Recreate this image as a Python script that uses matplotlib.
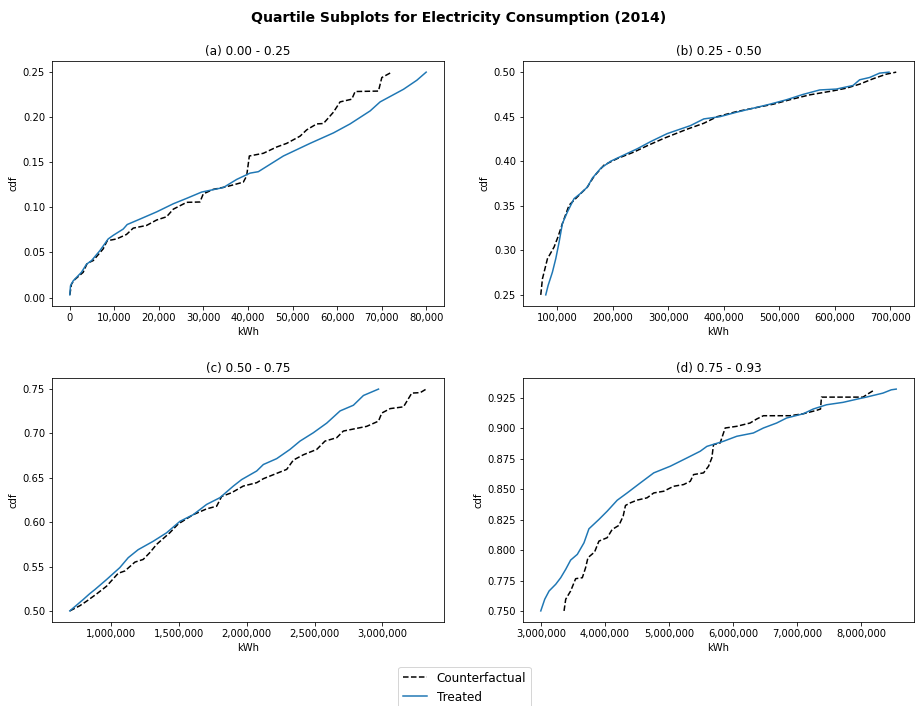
import matplotlib
matplotlib.use("Agg")
import matplotlib.pyplot as plt
from matplotlib.ticker import FuncFormatter

# ---- data: (a) 0.00 - 0.25 ----
a_treat_x = [0, 150, 750, 2600, 3750, 4870, 6740, 8610, 9740, 11990, 12880, 15730, 19480, 23220,
             26220, 29590, 34460, 37450, 40450, 42320, 47940, 53930, 59180, 62920, 67420, 69660,
             74910, 77900, 80000]
a_treat_y = [0.003, 0.013, 0.0185, 0.028, 0.037, 0.041, 0.052, 0.065, 0.069, 0.076, 0.081, 0.087,
             0.095, 0.104, 0.110, 0.117, 0.122, 0.131, 0.138, 0.1396, 0.157, 0.171, 0.1826, 0.1926,
             0.207, 0.217, 0.231, 0.241, 0.25]
a_cf_x = [0, 375, 1120, 3000, 3900, 5240, 7490, 8390, 10490, 12730, 14230, 17230, 19480, 21720,
          23220, 26220, 29210, 29960, 32210, 35210, 38950, 39700, 40300, 43450, 46450, 48690,
          51690, 53180, 55430, 56930, 59180, 60670, 63300, 64050, 69290, 70040, 71910]
a_cf_y = [0.003, 0.015, 0.020, 0.028, 0.038, 0.041, 0.054, 0.063, 0.065, 0.070, 0.077, 0.080,
          0.086, 0.0896, 0.098, 0.1056, 0.106, 0.115, 0.120, 0.123, 0.128, 0.135, 0.157, 0.160,
          0.167, 0.171, 0.179, 0.186, 0.1926, 0.193, 0.2056, 0.217, 0.220, 0.2285, 0.229, 0.244,
          0.249]

# ---- data: (b) 0.25 - 0.50 ----
b_treat_x = [79000, 83200, 91000, 97000, 103000, 109000, 118000, 130000, 142000, 154000, 163000,
             178000, 196000, 220000, 244000, 268000, 298000, 340000, 364000, 393000, 423000,
             453000, 483000, 513000, 543000, 573000, 603000, 633000, 645000, 663000, 681000, 698000]
b_treat_y = [0.25, 0.2605, 0.2755, 0.2905, 0.309, 0.33, 0.343, 0.358, 0.364, 0.371, 0.381, 0.392,
             0.400, 0.407, 0.414, 0.422, 0.431, 0.440, 0.4475, 0.450, 0.455, 0.4595, 0.464, 0.469,
             0.475, 0.480, 0.481, 0.485, 0.4914, 0.494, 0.4989, 0.500]
b_cf_x = [70000, 73000, 82000, 94000, 101000, 109000, 121000, 136000, 154000, 166000, 184000,
          208000, 238000, 262000, 292000, 334000, 364000, 388000, 423000, 453000, 489000, 519000,
          555000, 597000, 621000, 645000, 669000, 693000, 711000]
b_cf_y = [0.25, 0.268, 0.2905, 0.3037, 0.315, 0.33, 0.3506, 0.360, 0.371, 0.383, 0.3956, 0.403,
          0.4103, 0.4174, 0.4257, 0.436, 0.4426, 0.450, 0.4557, 0.4595, 0.464, 0.469, 0.4745,
          0.479, 0.482, 0.4865, 0.4925, 0.4977, 0.500]

# ---- data: (c) 0.50 - 0.75 ----
c_treat_x = [697800, 796000, 845000, 882000, 968000, 1066000, 1128000, 1201000, 1312000, 1410000,
             1509000, 1607000, 1705000, 1803000, 1902000, 1963000, 2074000, 2123000, 2221000,
             2319000, 2393000, 2491000, 2590000, 2688000, 2786000, 2860000, 2971000]
c_treat_y = [0.50, 0.5128, 0.5195, 0.524, 0.5353, 0.5488, 0.560, 0.569, 0.5785, 0.588, 0.601,
             0.6085, 0.620, 0.6276, 0.6407, 0.648, 0.6577, 0.665, 0.6716, 0.682, 0.6914, 0.7008,
             0.7117, 0.7254, 0.7318, 0.7428, 0.750]
c_cf_x = [697800, 771000, 821000, 894000, 968000, 1054000, 1103000, 1177000, 1238000, 1287000,
          1337000, 1435000, 1496000, 1607000, 1705000, 1779000, 1816000, 1889000, 1975000,
          2074000, 2123000, 2221000, 2295000, 2344000, 2418000, 2516000, 2577000, 2663000,
          2712000, 2884000, 2971000, 2995000, 3057000, 3155000, 3216000, 3278000, 3322000]
c_cf_y = [0.50, 0.5058, 0.5109, 0.519, 0.5278, 0.5424, 0.545, 0.555, 0.558, 0.5657, 0.575,
          0.5882, 0.598, 0.6085, 0.615, 0.618, 0.629, 0.6332, 0.6407, 0.6445, 0.649, 0.655,
          0.6595, 0.670, 0.676, 0.682, 0.6914, 0.6952, 0.7027, 0.708, 0.7139, 0.723, 0.728,
          0.730, 0.7455, 0.746, 0.750]

# ---- data: (d) 0.75 - 0.93 ----
d_treat_x = [3000000, 3062000, 3130000, 3233000, 3311000, 3389000, 3466000, 3570000, 3674000,
             3751000, 3907000, 4036000, 4192000, 4347000, 4554000, 4762000, 5021000, 5280000,
             5487000, 5591000, 5850000, 6057000, 6316000, 6472000, 6679000, 6834000, 7093000,
             7249000, 7456000, 7715000, 7922000, 8078000, 8337000, 8466000, 8544000]
d_treat_y = [0.750, 0.7596, 0.7664, 0.7719, 0.7773, 0.7842, 0.7918, 0.7965, 0.806, 0.8175,
             0.8252, 0.832, 0.8410, 0.847, 0.8553, 0.8635, 0.869, 0.8758, 0.8813, 0.8853,
             0.8895, 0.8936, 0.8963, 0.9004, 0.9045, 0.9086, 0.9121, 0.916, 0.9195, 0.9215,
             0.924, 0.9258, 0.9291, 0.9318, 0.9324]
d_cf_x = [3363000, 3389000, 3466000, 3544000, 3648000, 3699000, 3736000, 3839000, 3907000,
          4036000, 4114000, 4218000, 4285000, 4321000, 4399000, 4503000, 4658000, 4762000,
          4917000, 5073000, 5228000, 5332000, 5383000, 5539000, 5617000, 5668000, 5694000,
          5798000, 5876000, 6057000, 6264000, 6368000, 6472000, 6886000, 7093000, 7300000,
          7363000, 7378000, 8026000, 8104000, 8207000]
d_cf_y = [0.750, 0.7596, 0.7664, 0.7765, 0.7773, 0.7855, 0.7938, 0.7984, 0.8074, 0.8102, 0.817,
          0.8203, 0.8279, 0.8367, 0.8389, 0.8411, 0.843, 0.847, 0.8484, 0.8525, 0.8539, 0.8566,
          0.8621, 0.8635, 0.869, 0.8758, 0.8867, 0.8881, 0.9004, 0.9018, 0.9045, 0.9078, 0.9105,
          0.9105, 0.9121, 0.9149, 0.916, 0.9258, 0.9258, 0.9285, 0.9318]

titles = ["(a) 0.00 - 0.25", "(b) 0.25 - 0.50", "(c) 0.50 - 0.75", "(d) 0.75 - 0.93"]
suptitle = "Quartile Subplots for Electricity Consumption (2014)"
series_labels = ["Counterfactual", "Treated"]

panels = [
    (a_cf_x, a_cf_y, a_treat_x, a_treat_y),
    (b_cf_x, b_cf_y, b_treat_x, b_treat_y),
    (c_cf_x, c_cf_y, c_treat_x, c_treat_y),
    (d_cf_x, d_cf_y, d_treat_x, d_treat_y),
]

W, H = 918, 706
fig = plt.figure(figsize=(W / 72, H / 72), dpi=72)

boxes = [  # left, right, top, bottom in pixels
    (52, 444, 61, 306),
    (523, 914, 61, 306),
    (52, 444, 378, 622),
    (523, 914, 378, 622),
]

comma = FuncFormatter(lambda v, p: f"{v:,.0f}")
handles = None
for (cfx, cfy, tx, ty), title, (l, r, t, b) in zip(panels, titles, boxes):
    ax = fig.add_axes([l / W, 1 - b / H, (r - l) / W, (b - t) / H])
    h1, = ax.plot(cfx, cfy, color="black", linestyle="--", lw=1.5, label=series_labels[0])
    h2, = ax.plot(tx, ty, color="#1f77b4", lw=1.5, label=series_labels[1])
    handles = [h1, h2]
    ax.set_title(title, fontsize=12)
    ax.set_ylabel("cdf")
    ax.set_xlabel("kWh")
    ax.xaxis.set_major_formatter(comma)

fig.suptitle(suptitle, fontsize=14, fontweight="bold", y=0.985)
fig.legend(handles, series_labels, loc="lower center", bbox_to_anchor=(0.506, -0.012),
           fontsize=12, ncol=1)

fig.savefig("out.png", dpi=72)
